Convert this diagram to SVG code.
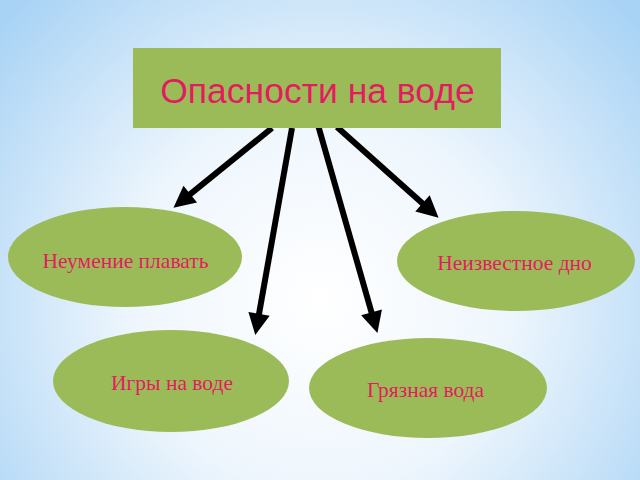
<svg xmlns="http://www.w3.org/2000/svg" width="640" height="480" viewBox="0 0 640 480">
  <defs>
    <radialGradient id="bg" cx="320" cy="300" r="420" gradientUnits="userSpaceOnUse">
      <stop offset="0" stop-color="#ffffff"/>
      <stop offset="0.45" stop-color="#eef6fd"/>
      <stop offset="1" stop-color="#a9d3f5"/>
    </radialGradient>
    <marker id="ah" viewBox="0 0 10 10" refX="2" refY="5" markerWidth="4" markerHeight="3.6" orient="auto" markerUnits="strokeWidth">
      <path d="M0,0 L10,5 L0,10 Z" fill="#000"/>
    </marker>
    <style>
      .node { fill: #9bbb59; }
      .lbl { fill: #e31c5f; font-family: "Liberation Serif", "Times New Roman", serif; font-size: 21.5px; text-anchor: middle; }
      .title { fill: #e31c5f; font-family: "Liberation Sans", Arial, sans-serif; font-size: 35.5px; text-anchor: middle; }
      .arrow { stroke: #000; stroke-width: 6; fill: none; marker-end: url(#ah); }
    </style>
  </defs>
  <rect x="0" y="0" width="640" height="480" fill="url(#bg)"/>
  <g id="connectors">
    <line class="arrow" x1="272" y1="128" x2="186.9" y2="196.9"/>
    <line class="arrow" x1="292" y1="128" x2="258.3" y2="318.1"/>
    <line class="arrow" x1="318" y1="125" x2="372.7" y2="316.5"/>
    <line class="arrow" x1="337" y1="127" x2="425.7" y2="206.2"/>
  </g>
  <g id="title">
    <rect class="node" x="133" y="48" width="368" height="80"/>
    <text class="title" x="317.5" y="103">Опасности на воде</text>
  </g>
  <g id="n1">
    <ellipse class="node" cx="125" cy="257" rx="117" ry="50"/>
    <text class="lbl" x="125.5" y="268">Неумение плавать</text>
  </g>
  <g id="n2">
    <ellipse class="node" cx="516" cy="261" rx="119" ry="50"/>
    <text class="lbl" x="514.5" y="270">Неизвестное дно</text>
  </g>
  <g id="n3">
    <ellipse class="node" cx="171" cy="381" rx="118" ry="51"/>
    <text class="lbl" x="172" y="390">Игры на воде</text>
  </g>
  <g id="n4">
    <ellipse class="node" cx="428" cy="388" rx="119" ry="50"/>
    <text class="lbl" x="425.5" y="397">Грязная вода</text>
  </g>
</svg>
